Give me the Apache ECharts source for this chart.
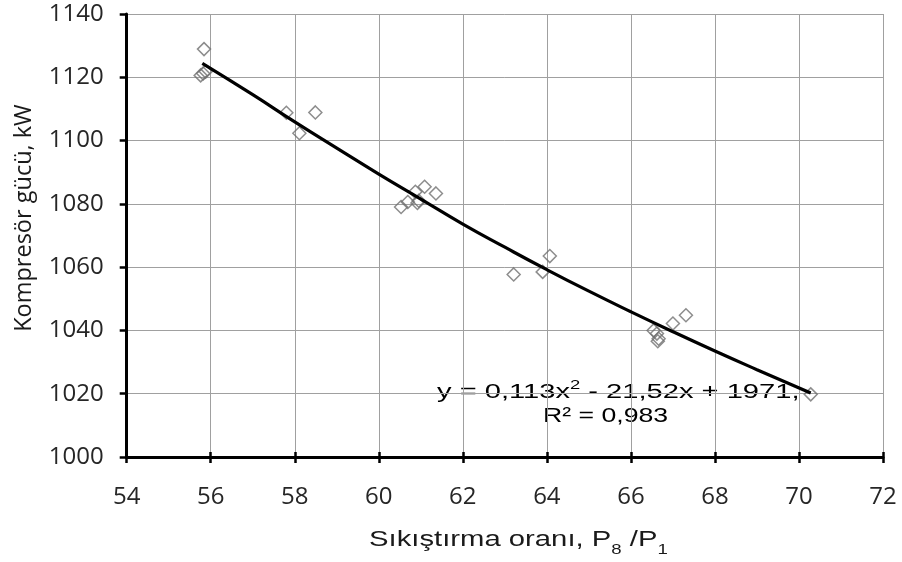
<!DOCTYPE html>
<html>
<head>
<meta charset="utf-8">
<script src="https://cdn.jsdelivr.net/npm/echarts@6/dist/echarts.min.js"></script>
<style>
  html, body { margin: 0; padding: 0; background: #ffffff; }
  #chart { width: 902px; height: 562px; }
</style>
</head>
<body>
<div id="chart"></div>
<script>
// ---- data ----
const compressionRatio = [55.84, 55.76, 55.82, 55.88, 57.80, 58.49, 58.11, 60.53, 60.69, 60.87, 61.09, 61.36, 60.95, 60.92, 63.21, 63.90, 64.07, 66.54, 66.62, 66.66, 66.64, 67.00, 67.31, 70.28];
const compressorPower  = [1128.9, 1120.6, 1121.2, 1121.8, 1108.8, 1108.9, 1102.3, 1079.0, 1080.6, 1083.8, 1085.4, 1083.3, 1081.0, 1080.3, 1057.7, 1058.5, 1063.5, 1040.0, 1039.0, 1037.4, 1036.6, 1042.2, 1044.8, 1019.8];

// trend line as traced on the picture
const trendX = [55.8, 57, 58, 59, 60, 61, 62, 63, 64, 65, 66, 67, 68, 69, 70.28];
const trendY = [1124.4, 1114.5, 1105.9, 1097.6, 1089.4, 1081.5, 1073.6, 1066.3, 1059.2, 1052.4, 1045.9, 1039.6, 1033.5, 1027.6, 1020.2];

const xTicks = { min: 54, max: 72, interval: 2 };
const yTicks = { min: 1000, max: 1140, interval: 20 };

const xTitle = ['Sıkıştırma oranı, P', '8', ' /P', '1'];
const yTitle = 'Kompresör gücü, kW';
const eqLine1 = ['y = 0,113x', '2', ' - 21,52x + 1971,'];
const eqLine2 = 'R² = 0,983';

const scatterData = compressionRatio.map((x, i) => [x, compressorPower[i]]);
const trendData = trendX.map((x, i) => [x, trendY[i]]);

const tickFont = { fontFamily: 'Open Sans', fontSize: 24, color: '#262626', formatter: v => String(v) };

const chart = echarts.init(document.getElementById('chart'), null, { renderer: 'canvas' });
chart.setOption({
  animation: false,
  backgroundColor: '#ffffff',
  grid: { left: 126.7, right: 19, top: 14, bottom: 105, containLabel: false },
  xAxis: [{
    type: 'value', min: xTicks.min, max: xTicks.max, interval: xTicks.interval,
    axisLine: { show: true, onZero: false, lineStyle: { color: '#000', width: 3 } },
    axisTick: { show: true, inside: false, length: 6, lineStyle: { color: '#000', width: 2.5 } },
    axisLabel: Object.assign({ margin: 28 }, tickFont),
    splitLine: { show: true, lineStyle: { color: '#a0a0a0', width: 1 } }
  }, {
    type: 'value', min: xTicks.min, max: xTicks.max, interval: xTicks.interval, position: 'bottom',
    axisLine: { show: false },
    axisTick: { show: true, inside: true, length: 5, lineStyle: { color: '#000', width: 2.5 } },
    axisLabel: { show: false },
    splitLine: { show: false }
  }],
  yAxis: {
    type: 'value', min: yTicks.min, max: yTicks.max, interval: yTicks.interval,
    axisLine: { show: true, onZero: false, lineStyle: { color: '#000', width: 3 } },
    axisTick: { show: true, inside: false, length: 7, lineStyle: { color: '#000', width: 2.5 } },
    axisLabel: Object.assign({ margin: 23 }, tickFont),
    splitLine: { show: true, lineStyle: { color: '#a0a0a0', width: 1 } }
  },
  series: [{
    type: 'scatter',
    data: scatterData,
    symbol: 'diamond',
    symbolSize: [13, 13],
    itemStyle: { color: 'rgba(0,0,0,0)', borderColor: '#707070', borderWidth: 1.5 },
    z: 2
  }, {
    type: 'line',
    data: trendData,
    smooth: true,
    showSymbol: false,
    lineStyle: { color: '#000', width: 3.2 },
    z: 3
  }],
  graphic: [{
    type: 'text', x: 24, y: 218, rotation: Math.PI / 2,
    style: { text: yTitle, fontFamily: 'Open Sans', fontSize: 23.5, fill: '#1a1a1a', align: 'center', verticalAlign: 'middle' }
  }, {
    type: 'text', x: 369, y: 529, scaleX: 1.33,
    style: {
      text: '{a|' + xTitle[0] + '}{s|' + xTitle[1] + '}{a|' + xTitle[2] + '}{s|' + xTitle[3] + '}',
      fill: '#1a1a1a', align: 'left', verticalAlign: 'top',
      rich: {
        a: { fontFamily: 'Liberation Sans', fontSize: 22, lineHeight: 24, fill: '#1a1a1a', verticalAlign: 'top' },
        s: { fontFamily: 'Liberation Sans', fontSize: 14, lineHeight: 14, fill: '#1a1a1a', verticalAlign: 'top', padding: [14, 0, 0, 0] }
      }
    }
  }, {
    type: 'text', x: 437, y: 379, scaleX: 1.42,
    style: {
      text: '{a|' + eqLine1[0] + '}{p|' + eqLine1[1] + '}{a|' + eqLine1[2] + '}',
      fill: '#000', align: 'left', verticalAlign: 'top',
      rich: {
        a: { fontFamily: 'Liberation Sans', fontSize: 20.5, lineHeight: 24, fill: '#000', verticalAlign: 'bottom' },
        p: { fontFamily: 'Liberation Sans', fontSize: 13, lineHeight: 13, fill: '#000', verticalAlign: 'top' }
      }
    }
  }, {
    type: 'text', x: 543, y: 406, scaleX: 1.3,
    style: { text: eqLine2, fontFamily: 'Liberation Sans', fontSize: 20.5, fill: '#000', align: 'left', verticalAlign: 'top' }
  }]
});
</script>
</body>
</html>
